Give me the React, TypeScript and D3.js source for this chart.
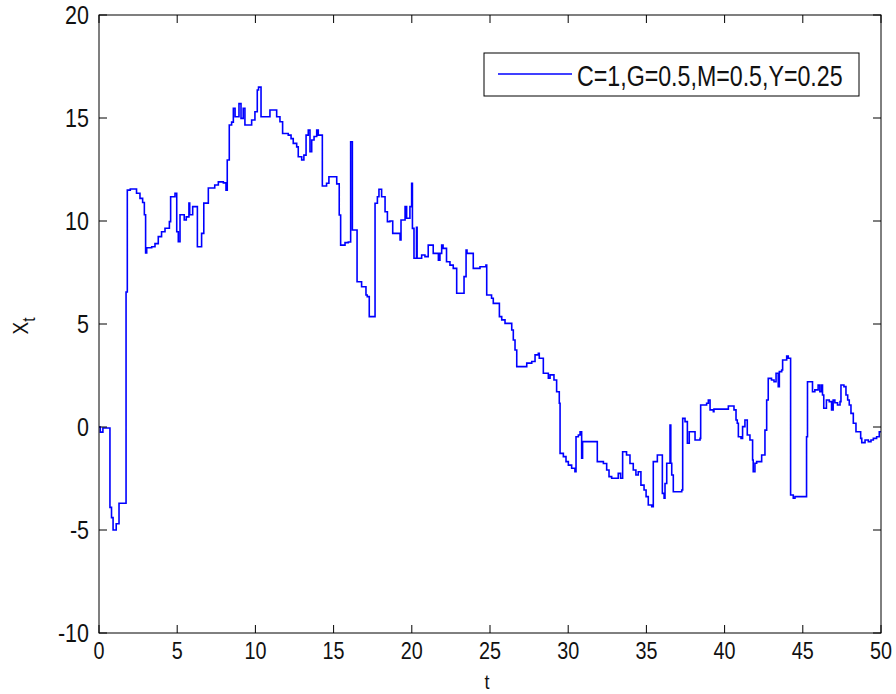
import React from 'react';
import * as d3 from 'd3';

// jump process sample path (t, X_t), drawn as steps
const tValues = [
  0, 0.08, 0.25, 0.7, 0.8, 0.9, 1.1, 1.28, 1.73, 1.81, 2.0, 2.4, 2.62, 2.79, 2.9, 2.98, 3.05, 3.37, 3.58, 3.79,
  4.0, 4.22, 4.5, 4.58, 4.86, 4.97, 5.07, 5.18, 5.45, 5.58, 5.75, 5.8, 5.99, 6.29, 6.56, 6.7, 6.99, 7.4, 7.63, 7.95,
  8.12, 8.2, 8.33, 8.48, 8.59, 8.7, 8.95, 9.08, 9.22, 9.33, 9.76, 9.97, 10.12, 10.2, 10.36, 10.93, 11.36, 11.57, 11.74, 12.1,
  12.28, 12.42, 12.64, 12.74, 12.96, 13.1, 13.24, 13.38, 13.49, 13.6, 13.75, 13.92, 14.02, 14.28, 14.55, 14.7, 15.2, 15.36, 15.45, 15.73,
  15.94, 16.09, 16.2, 16.5, 16.79, 17.07, 17.15, 17.28, 17.65, 17.8, 17.9, 18.07, 18.29, 18.44, 18.6, 18.78, 19.25, 19.31, 19.57, 19.67,
  19.88, 19.99, 20.04, 20.14, 20.3, 20.34, 20.63, 20.84, 21.05, 21.37, 21.7, 21.8, 21.91, 22.0, 22.22, 22.44, 22.65, 22.87, 23.34, 23.47,
  23.53, 23.93, 24.36, 24.74, 24.79, 25.1, 25.21, 25.6, 25.75, 25.96, 26.39, 26.49, 26.6, 26.71, 27.35, 27.67, 27.88, 28.09, 28.15, 28.41,
  28.73, 28.84, 29.09, 29.26, 29.43, 29.48, 29.69, 29.86, 30.01, 30.22, 30.43, 30.5, 30.65, 30.76, 30.86, 30.92, 31.86, 32.25, 32.46, 32.61,
  32.78, 33.2, 33.35, 33.48, 33.73, 33.95, 34.16, 34.33, 34.48, 34.65, 34.85, 34.98, 35.12, 35.34, 35.44, 35.7, 36.02, 36.13, 36.19, 36.3,
  36.51, 36.56, 36.62, 36.72, 37.26, 37.32, 37.47, 37.62, 37.74, 38.11, 38.43, 38.47, 38.85, 38.96, 39.07, 39.28, 39.32, 40.24, 40.6, 40.73,
  40.81, 40.88, 41.05, 41.15, 41.3, 41.45, 41.62, 41.79, 41.83, 41.94, 42.05, 42.37, 42.58, 42.69, 42.79, 43.0, 43.16, 43.29, 43.43, 43.5,
  43.65, 43.71, 43.97, 44.07, 44.22, 44.39, 44.5, 45.24, 45.3, 45.62, 45.77, 45.98, 46.09, 46.2, 46.26, 46.34, 46.51, 46.69, 46.84, 46.94,
  47.05, 47.22, 47.38, 47.44, 47.63, 47.76, 47.87, 47.97, 48.08, 48.23, 48.4, 48.7, 48.77, 48.98, 49.19, 49.36, 49.51, 49.72, 49.89, 50,
];
const xtValues = [
  0, -0.25, -0.05, -3.9, -4.4, -5.0, -4.7, -3.7, 6.55, 11.5, 11.55, 11.35, 11.1, 10.9, 10.3, 8.45, 8.7, 8.75, 8.9, 9.24,
  9.48, 9.65, 9.97, 11.18, 11.35, 9.48, 9.0, 10.3, 10.05, 10.2, 10.87, 10.3, 10.7, 8.75, 9.4, 10.87, 11.6, 11.75, 11.9, 11.85,
  11.5, 12.96, 14.66, 14.8, 15.47, 15.06, 15.7, 14.98, 15.47, 14.66, 14.9, 15.3, 16.36, 16.5, 15.06, 15.39, 15.06, 14.82, 14.25, 14.17,
  14.0, 13.77, 13.6, 13.12, 12.96, 13.2, 14.17, 14.42, 13.36, 13.93, 14.1, 14.42, 14.17, 11.7, 11.83, 12.15, 11.8, 10.29, 8.83, 8.95,
  8.98, 13.85, 9.56, 7.05, 6.81, 6.41, 6.33, 5.36, 10.86, 11.18, 11.54, 11.18, 10.45, 9.97, 10.0, 9.4, 9.08, 10.05, 10.7, 10.13,
  10.7, 11.83, 9.64, 8.19, 9.7, 8.19, 8.35, 8.27, 8.83, 8.43, 8.1, 8.43, 8.83, 8.67, 8.02, 7.86, 7.7, 6.49, 7.3, 8.59,
  8.43, 7.7, 7.78, 7.86, 6.41, 6.25, 6.0, 5.36, 5.2, 5.03, 4.71, 4.22, 3.74, 2.93, 3.1, 3.18, 3.5, 3.58, 3.34, 2.61,
  2.37, 2.53, 2.28, 1.71, 1.15, -1.28, -1.44, -1.68, -1.85, -2.0, -2.17, -0.47, -0.39, -0.23, -1.52, -0.71, -1.68, -1.77, -2.09, -2.41,
  -2.49, -2.25, -2.49, -1.2, -1.36, -1.77, -2.09, -2.33, -2.17, -2.82, -3.06, -3.38, -3.79, -3.87, -1.68, -1.36, -3.22, -3.46, -2.74, -1.76,
  0.1, -1.76, -2.33, -3.14, -3.06, 0.42, 0.26, -0.79, -0.23, -0.63, -0.55, 1.07, 1.15, 1.31, 0.83, 0.74, 0.87, 1.02, 0.83, 0.34,
  0.18, -0.47, -0.55, 0.02, 0.34, -0.39, -0.63, -1.6, -2.17, -1.76, -1.68, -1.36, -0.15, 1.31, 2.36, 2.28, 2.2, 2.61, 1.96, 2.69,
  2.77, 3.25, 3.45, 3.34, -3.3, -3.46, -3.38, -0.47, 2.2, 1.71, 1.8, 2.04, 1.71, 2.04, 1.55, 0.91, 1.31, 1.23, 0.83, 1.31,
  1.18, 1.07, 1.23, 2.04, 1.96, 1.55, 1.31, 1.07, 0.66, 0.18, -0.23, -0.55, -0.76, -0.63, -0.71, -0.63, -0.55, -0.47, -0.23, -0.23,
];

const xTicks = [0, 5, 10, 15, 20, 25, 30, 35, 40, 45, 50];
const yTicks = [-10, -5, 0, 5, 10, 15, 20];
const legendLabel = 'C=1,G=0.5,M=0.5,Y=0.25';

const W = 896;
const H = 694;
const plot = { left: 99, right: 881, top: 15, bottom: 633 };
const tickLen = 8;
const font = '"Liberation Sans", Arial, Helvetica, sans-serif';

export default function App() {
  const x = d3.scaleLinear().domain([0, 50]).range([plot.left, plot.right]);
  const y = d3.scaleLinear().domain([-10, 20]).range([plot.bottom, plot.top]);

  const points: [number, number][] = tValues.map((t, i) => [t, xtValues[i]]);
  const path = d3
    .line<[number, number]>()
    .x((d) => x(d[0]))
    .y((d) => y(d[1]))
    .curve(d3.curveStepAfter)(points);

  return (
    <svg width={W} height={H} style={{ position: 'absolute', left: 0, top: 0, background: '#fff' }}>
      <rect x={0} y={0} width={W} height={H} fill="#fff" />

      {/* data line */}
      <path d={path || ''} fill="none" stroke="#0000ff" strokeWidth={1.6} />

      {/* box */}
      <rect
        x={plot.left}
        y={plot.top}
        width={plot.right - plot.left}
        height={plot.bottom - plot.top}
        fill="none"
        stroke="#000"
        strokeWidth={1}
      />

      {/* x ticks, pointing inward on bottom and top */}
      {xTicks.map((t) => (
        <g key={'xt' + t}>
          <line x1={x(t)} x2={x(t)} y1={plot.bottom} y2={plot.bottom - tickLen} stroke="#000" />
          <line x1={x(t)} x2={x(t)} y1={plot.top} y2={plot.top + tickLen} stroke="#000" />
          <text
            transform={`translate(${x(t)},659) scale(0.86,1)`}
            textAnchor="middle"
            fontFamily={font}
            fontSize={23}
            fill="#111"
          >
            {t}
          </text>
        </g>
      ))}

      {/* y ticks */}
      {yTicks.map((v) => (
        <g key={'yt' + v}>
          <line x1={plot.left} x2={plot.left + tickLen} y1={y(v)} y2={y(v)} stroke="#000" />
          <line x1={plot.right} x2={plot.right - tickLen} y1={y(v)} y2={y(v)} stroke="#000" />
          <text
            transform={`translate(89,${y(v) + 9}) scale(0.86,1)`}
            textAnchor="end"
            fontFamily={font}
            fontSize={25}
            fill="#111"
          >
            {v}
          </text>
        </g>
      ))}

      {/* axis labels */}
      <text
        transform="translate(487,689) scale(0.86,1)"
        textAnchor="middle"
        fontFamily={font}
        fontSize={21}
        fill="#111"
      >
        t
      </text>
      <text
        transform="translate(28,326) rotate(-90) scale(0.86,1)"
        textAnchor="middle"
        fontFamily={font}
        fontSize={22}
        fill="#111"
      >
        X
        <tspan fontSize={18} dy={7}>
          t
        </tspan>
      </text>

      {/* legend */}
      <g>
        <rect x={484} y={53} width={375} height={43} fill="#fff" stroke="#000" strokeWidth={1} />
        <line x1={498} x2={572} y1={74} y2={74} stroke="#0000ff" strokeWidth={1.6} />
        <text
          transform="translate(577,86) scale(0.8,1)"
          fontFamily={font}
          fontSize={29}
          fill="#111"
        >
          {legendLabel}
        </text>
      </g>
    </svg>
  );
}
